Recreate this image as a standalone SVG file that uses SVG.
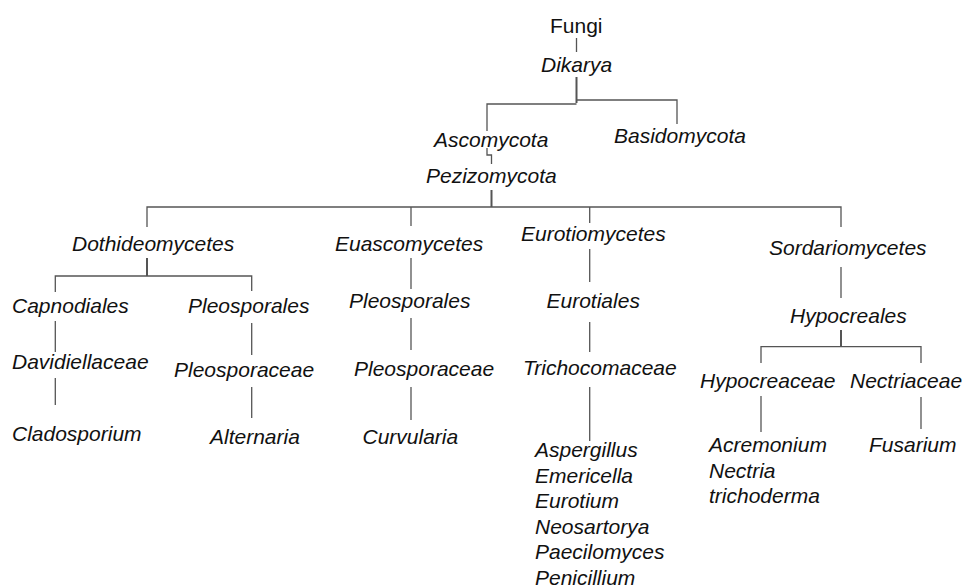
<svg xmlns="http://www.w3.org/2000/svg" width="964" height="588" viewBox="0 0 964 588">
<style>
text{font-family:"Liberation Sans",Arial,sans-serif;font-size:21px;fill:#111;font-style:italic}
.up{font-style:normal}
.c line,.c path{stroke:#555;stroke-width:1.3;fill:none}
.c .b{stroke-width:2}
</style>
<rect width="964" height="588" fill="#fff"/>
<g class="c" id="connectors">
<line x1="576.5" y1="38" x2="576.5" y2="52"/>
<line class="b" x1="576.5" y1="77" x2="576.5" y2="103"/>
<path d="M487,131 V104 H576.5"/>
<path d="M576.5,100 H677 V124"/>
<path d="M487,148 V155 H491.5 V164"/>
<line class="b" x1="491.5" y1="190" x2="491.5" y2="207"/>
<path d="M147,227 V207 H841 V227"/>
<line x1="411" y1="207" x2="411" y2="226"/>
<line x1="589.7" y1="207" x2="589.7" y2="223"/>
<line class="b" x1="147" y1="258" x2="147" y2="276"/>
<path d="M55.3,292 V276 H251.7 V291"/>
<line x1="55.3" y1="321" x2="55.3" y2="352"/>
<line x1="251.7" y1="323" x2="251.7" y2="355"/>
<line x1="55.3" y1="378" x2="55.3" y2="405"/>
<line x1="251.7" y1="387" x2="251.7" y2="418"/>
<line x1="411" y1="258" x2="411" y2="289"/>
<line x1="411" y1="318" x2="411" y2="350"/>
<line x1="411" y1="387" x2="411" y2="420"/>
<line x1="589.7" y1="249" x2="589.7" y2="282"/>
<line x1="589.7" y1="322" x2="589.7" y2="352"/>
<line x1="589.7" y1="387" x2="589.7" y2="441"/>
<line x1="841" y1="267" x2="841" y2="298"/>
<line class="b" x1="841" y1="330" x2="841" y2="346.7"/>
<path d="M761,363 V346.7 H921 V363"/>
<line x1="761" y1="396" x2="761" y2="432"/>
<line x1="921" y1="397" x2="921" y2="429"/>
</g>
<g id="fungi"><text class="up" x="550" y="33">Fungi</text></g>
<g id="dikarya"><text x="541" y="72">Dikarya</text></g>
<g id="ascomycota"><text x="434" y="146.5">Ascomycota</text></g>
<g id="basidiomycota"><text x="614" y="143">Basidomycota</text></g>
<g id="pezizomycota"><text x="426" y="183">Pezizomycota</text></g>
<g id="dothideomycetes"><text x="72" y="251">Dothideomycetes</text></g>
<g id="euascomycetes"><text x="335" y="251">Euascomycetes</text></g>
<g id="eurotiomycetes"><text x="521" y="240.5">Eurotiomycetes</text></g>
<g id="sordariomycetes"><text x="769" y="255">Sordariomycetes</text></g>
<g id="capnodiales"><text x="12" y="313">Capnodiales</text></g>
<g id="pleosporales1"><text x="188" y="313">Pleosporales</text></g>
<g id="davidiellaceae"><text x="12" y="369">Davidiellaceae</text></g>
<g id="pleosporaceae1"><text x="174" y="376.5">Pleosporaceae</text></g>
<g id="cladosporium"><text x="12" y="440.5">Cladosporium</text></g>
<g id="alternaria"><text x="210" y="444">Alternaria</text></g>
<g id="pleosporales2"><text x="349" y="308">Pleosporales</text></g>
<g id="pleosporaceae2"><text x="354" y="376">Pleosporaceae</text></g>
<g id="curvularia"><text x="362.5" y="444">Curvularia</text></g>
<g id="eurotiales"><text x="546.5" y="308">Eurotiales</text></g>
<g id="trichocomaceae"><text x="523" y="375">Trichocomaceae</text></g>
<g id="eurotiales-genera">
<text x="535" y="457">Aspergillus</text>
<text x="535" y="483">Emericella</text>
<text x="535" y="508">Eurotium</text>
<text x="535" y="534">Neosartorya</text>
<text x="535" y="559">Paecilomyces</text>
<text x="535" y="585">Penicillium</text>
</g>
<g id="hypocreales"><text x="790" y="322.5">Hypocreales</text></g>
<g id="hypocreaceae"><text x="700" y="388">Hypocreaceae</text></g>
<g id="nectriaceae"><text x="850" y="388">Nectriaceae</text></g>
<g id="hypocreaceae-genera">
<text x="709" y="452">Acremonium</text>
<text x="709" y="477.5">Nectria</text>
<text x="709" y="502.5">trichoderma</text>
</g>
<g id="fusarium"><text x="869" y="452">Fusarium</text></g>
</svg>
